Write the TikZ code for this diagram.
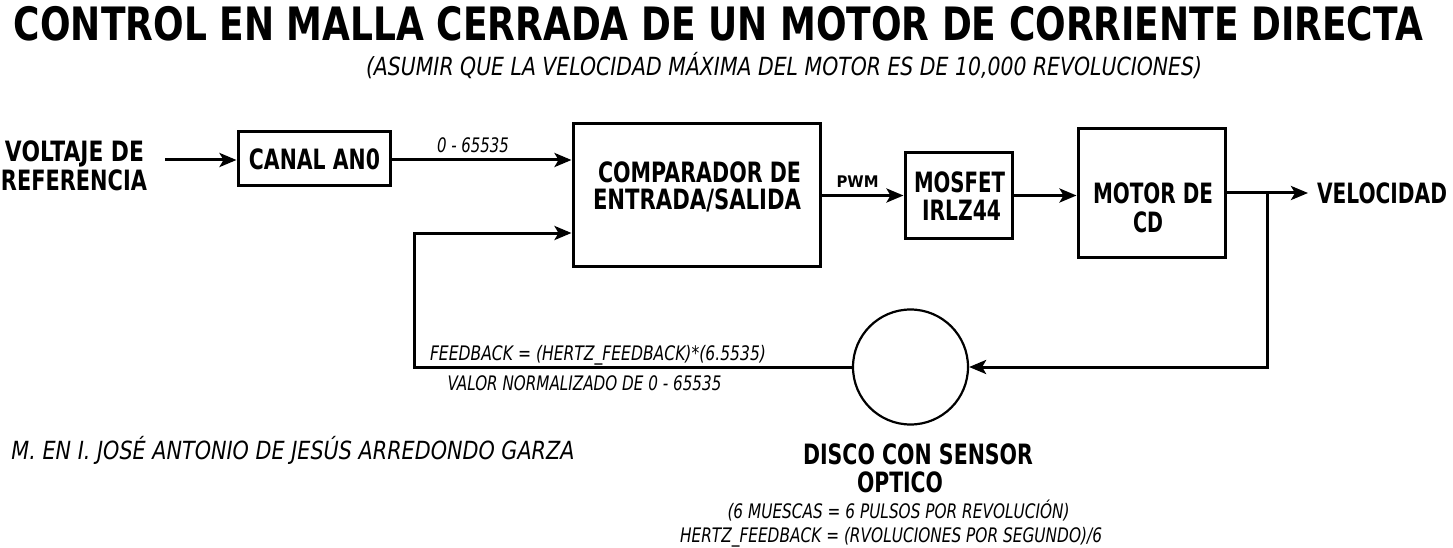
\documentclass[tikz,border=0pt]{standalone}
\usepackage{fontspec}
\setmainfont{DejaVu Sans}
\usepackage{graphicx}
\usetikzlibrary{arrows.meta}
\newcommand\fw[2]{\resizebox{#1pt}{\height}{#2}}
\tikzset{
  >={Stealth[length=17pt 0,width=14pt 0,inset=4pt]},
  blk/.style={draw, line width=3pt, inner sep=0pt, anchor=center},
  conn/.style={line width=3pt},
  lbl/.style={anchor=base, inner sep=0pt},
  bigb/.style={lbl, font=\fontsize{46}{50}\bfseries\selectfont},
  boxb/.style={lbl, font=\fontsize{28}{32}\bfseries\selectfont},
  smallb/.style={lbl, font=\fontsize{16}{18}\bfseries\selectfont},
  ital/.style={lbl, font=\fontsize{20}{23}\itshape\selectfont},
  itbig/.style={lbl, font=\fontsize{25}{29}\itshape\selectfont},
}
\begin{document}
\begin{tikzpicture}[x=1pt,y=-1pt]
\useasboundingbox[fill=white] (0,0) rectangle (1453,548);

% titles
\node[bigb] (title) at (718.5,41) {\fw{1409}{CONTROL EN MALLA CERRADA DE UN MOTOR DE CORRIENTE DIRECTA}};
\node[itbig] (subtitle) at (784,76) {\fw{836}{(ASUMIR QUE LA VELOCIDAD MÁXIMA DEL MOTOR ES DE 10,000 REVOLUCIONES)}};

% blocks
\node[blk, minimum width=152pt, minimum height=54pt] (canal) at (314,159) {};
\node[blk, minimum width=247pt, minimum height=142pt] (comp) at (696.5,195) {};
\node[blk, minimum width=107pt, minimum height=85pt] (mosfet) at (958.5,195.5) {};
\node[blk, minimum width=147pt, minimum height=128pt] (motor) at (1151.5,193) {};
\node[draw, circle, line width=2.2pt, minimum size=115pt, inner sep=0pt] (disk) at (910.5,367) {};

% block texts
\node[boxb] (volt1) at (74.5,162) {\fw{139}{VOLTAJE DE}};
\node[boxb] (volt2) at (74,190) {\fw{146}{REFERENCIA}};
\node[boxb] (canaltxt) at (314.5,170) {\fw{131}{CANAL AN0}};
\node[boxb] (comp1) at (699.5,183) {\fw{203}{COMPARADOR DE}};
\node[boxb] (comp2) at (697,210) {\fw{208}{ENTRADA/SALIDA}};
\node[boxb] (mos1) at (959.5,193) {\fw{91}{MOSFET}};
\node[boxb] (mos2) at (961.5,221) {\fw{79}{IRLZ44}};
\node[boxb] (mot1) at (1153,204) {\fw{120}{MOTOR DE}};
\node[boxb] (mot2) at (1148,232) {\fw{30}{CD}};
\node[boxb] (vel) at (1382,204) {\fw{130}{VELOCIDAD}};
\node[boxb] (disc1) at (918,464) {\fw{230}{DISCO CON SENSOR}};
\node[boxb] (disc2) at (900,492) {\fw{86}{OPTICO}};

% connector labels
\node[ital] (rng) at (473,153) {\fw{72}{0 - 65535}};
\node[smallb] (pwm) at (857.5,188) {\fw{42}{PWM}};
\node[ital] (fb1) at (598,360) {\fw{336}{FEEDBACK = (HERTZ\_FEEDBACK)*(6.5535)}};
\node[ital] (fb2) at (584.5,390) {\fw{274}{VALOR NORMALIZADO DE 0 - 65535}};
\node[ital] (note1) at (898.5,518) {\fw{342}{(6 MUESCAS = 6 PULSOS POR REVOLUCIÓN)}};
\node[ital] (note2) at (891,542) {\fw{422}{HERTZ\_FEEDBACK = (RVOLUCIONES POR SEGUNDO)/6}};
\node[itbig] (author) at (293,459) {\fw{563}{M. EN I. JOSÉ ANTONIO DE JESÚS ARREDONDO GARZA}};

% connectors
\coordinate (vin) at (165,160);
\coordinate (vout) at (1308,193);
\coordinate (branch) at (1267,193);
\coordinate (fbc) at (414,233);

\draw[conn,->] (vin) -- (vin -| canal.west);
\draw[conn,->] (canal.east |- vin) -- (vin -| comp.west);
\draw[conn,->] (comp.east |- mosfet.west) -- (mosfet.west);
\draw[conn,->] (mosfet.east) -- (mosfet.east -| motor.west);
\draw[conn,->] (motor.east) -- (vout);
\draw[conn,->] (branch) |- (disk.east);
\draw[conn,->] (disk.west) -| (fbc) -- (fbc -| comp.west);
\end{tikzpicture}
\end{document}
